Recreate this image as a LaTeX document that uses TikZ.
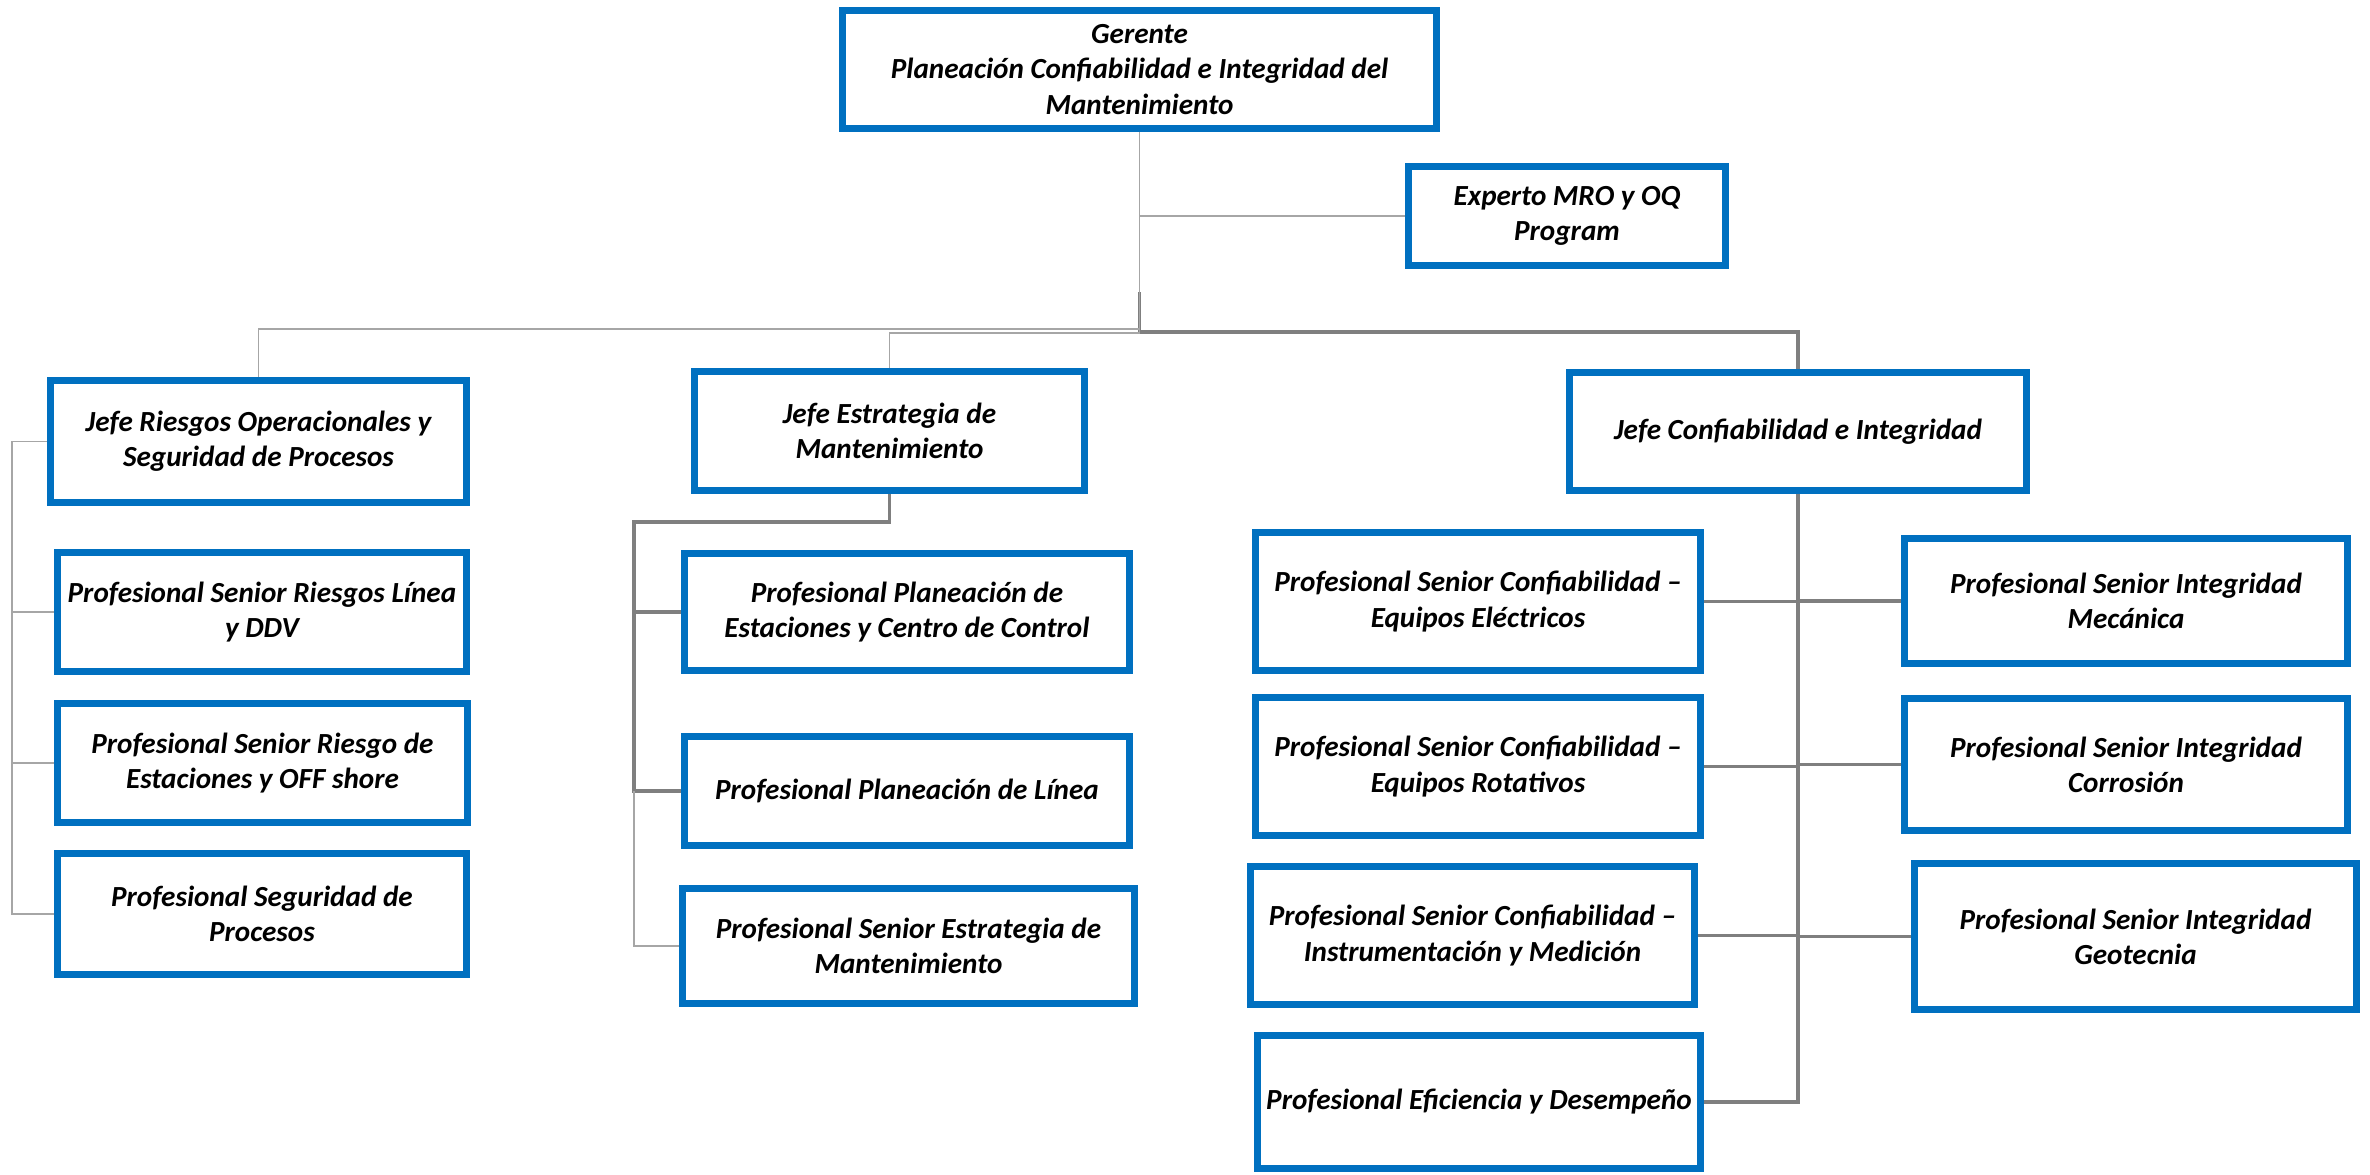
\documentclass[tikz,border=0pt]{standalone}
\usepackage{fontspec}
\setmainfont{Carlito}
\usepackage{tikz}
\usetikzlibrary{positioning, calc}
\definecolor{boxblue}{HTML}{0070C0}
\definecolor{linkdark}{HTML}{7F7F7F}
\definecolor{linklight}{HTML}{A6A6A6}

\begin{document}
\begin{tikzpicture}[
    role/.style={rectangle, draw=boxblue, line width=2pt, fill=white, align=center, inner sep=2pt, font=\fontsize{8.3}{10}\selectfont\bfseries\itshape},
    size/.style 2 args={minimum width=#1cm, minimum height=#2cm},
    link/.style={draw=linkdark, line width=1.1pt},
    linkthin/.style={draw=linklight, line width=0.45pt}
]
\useasboundingbox (0,0) rectangle (23.70,-11.75);

% Top
\node[role, size={5.94}{1.18}] (G) at (11.395,-0.695) {Gerente\\ Planeación Confiabilidad e Integridad del\\ Mantenimiento};
\node[role, size={3.17}{0.99}] (E) at (15.67,-2.16) {Experto MRO y OQ\\ Program};

% Jefes
\node[role, size={4.16}{1.22}] (JR) at (2.585,-4.415) {Jefe Riesgos Operacionales y\\ Seguridad de Procesos};
\node[role, size={3.90}{1.19}] (JE) at (8.895,-4.31) {Jefe Estrategia de\\ Mantenimiento};
\node[role, size={4.57}{1.18}] (JC) at (17.98,-4.315) {Jefe Confiabilidad e Integridad};

% Riesgos
\node[role, size={4.09}{1.19}] (R1) at (2.62,-6.12) {Profesional Senior Riesgos Línea\\ y DDV};
\node[role, size={4.10}{1.19}] (R2) at (2.625,-7.63) {Profesional Senior Riesgo de\\ Estaciones y OFF shore};
\node[role, size={4.09}{1.21}] (R3) at (2.62,-9.14) {Profesional Seguridad de\\ Procesos};

% Estrategia
\node[role, size={4.45}{1.17}] (S1) at (9.07,-6.12) {Profesional Planeación de\\ Estaciones y Centro de Control};
\node[role, size={4.45}{1.09}] (S2) at (9.07,-7.91) {Profesional Planeación de Línea};
\node[role, size={4.52}{1.15}] (S3) at (9.085,-9.46) {Profesional Senior Estrategia de\\ Mantenimiento};

% Confiabilidad (left)
\node[role, size={4.45}{1.38}] (C1) at (14.78,-6.015) {Profesional Senior Confiabilidad –\\ Equipos Eléctricos};
\node[role, size={4.45}{1.38}] (C2) at (14.78,-7.665) {Profesional Senior Confiabilidad –\\ Equipos Rotativos};
\node[role, size={4.44}{1.38}] (C3) at (14.725,-9.355) {Profesional Senior Confiabilidad –\\ Instrumentación y Medición};
\node[role, size={4.43}{1.33}] (C4) at (14.79,-11.02) {Profesional Eficiencia y Desempeño};

% Integridad (right)
\node[role, size={4.43}{1.25}] (I1) at (21.26,-6.01) {Profesional Senior Integridad\\ Mecánica};
\node[role, size={4.43}{1.32}] (I2) at (21.26,-7.645) {Profesional Senior Integridad\\ Corrosión};
\node[role, size={4.42}{1.46}] (I3) at (21.355,-9.365) {Profesional Senior Integridad\\ Geotecnia};

% Connectors from Gerente
\coordinate (Gk) at (11.395,-2.92);
\draw[link] (Gk) -- ++(0,-0.40) -| (JC.north);
\draw[linkthin] (G.south) |- (E.west);
\draw[linkthin] (G.south) -- ++(0,-1.97) -| (JR.north);
\draw[linkthin] (G.south) -- ++(0,-2.01) -| (JE.north);

% Riesgos branch
\draw[linkthin] (JR.west) -- ++(-0.35,0) |- (R1.west);
\draw[linkthin] (JR.west) -- ++(-0.35,0) |- (R2.west);
\draw[linkthin] (JR.west) -- ++(-0.35,0) |- (R3.west);

% Estrategia branch
\coordinate (Sbus) at (6.34,-5.22);
\draw[link] (JE.south) |- (Sbus) |- (S1.west);
\draw[link] (Sbus) |- (S2.west);
\draw[linkthin] (Sbus |- S2.west) |- (S3.west);

% Confiabilidad branch
\draw[link] (JC.south) |- (C4.east);
\draw[link] (C1.east) -- (C1.east -| JC.south);
\draw[link] (C2.east) -- (C2.east -| JC.south);
\draw[link] (C3.east) -- (C3.east -| JC.south);
\draw[link] (JC.south |- I1.west) -- (I1.west);
\draw[link] (JC.south |- I2.west) -- (I2.west);
\draw[link] (JC.south |- I3.west) -- (I3.west);

\end{tikzpicture}
\end{document}
